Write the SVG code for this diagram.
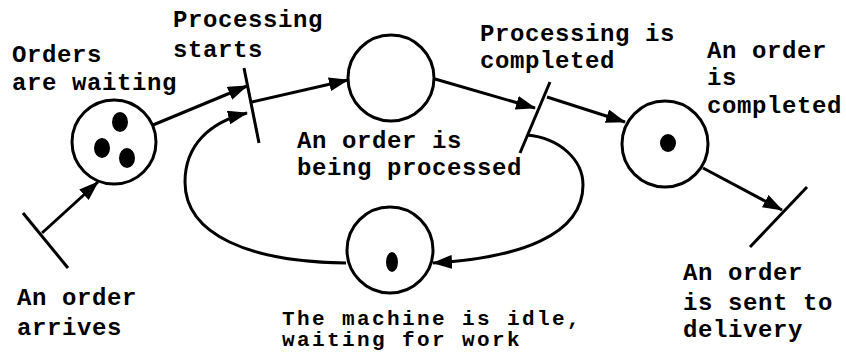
<svg xmlns="http://www.w3.org/2000/svg" width="846" height="353" viewBox="0 0 846 353">
  <style>
    .place { fill: #fff; stroke: #000; stroke-width: 3; }
    .token { fill: #000; }
    .bar { stroke: #000; stroke-width: 3; stroke-linecap: butt; }
    .arc { fill: none; stroke: #000; stroke-width: 3; marker-end: url(#head); }
    text { font-family: "Liberation Mono", "Courier New", monospace; font-weight: bold; font-size: 24px; letter-spacing: 0.6px; fill: #000; }
    text.tight { font-size: 21px; letter-spacing: 2.4px; }
  </style>
  <defs>
    <marker id="head" markerUnits="userSpaceOnUse" markerWidth="20" markerHeight="14" refX="19" refY="7" orient="auto">
      <path d="M0,0 L20,7 L0,14 z" fill="#000"/>
    </marker>
  </defs>
  <rect width="846" height="353" fill="#fff"/>

  <!-- connectors -->
  <g id="connectors">
    <path class="arc" d="M 42,233 L 98,182"/>
    <path class="arc" d="M 153,125 L 247,86"/>
    <path class="arc" d="M 252,102 L 348,80"/>
    <path class="arc" d="M 435,79 L 535,108"/>
    <path class="arc" d="M 547,97 L 625,122"/>
    <path class="arc" d="M 703,168 L 782,210"/>
    <path class="arc" d="M 527,135 C 560,138 583,160 583,185 C 583,235 520,258 433,263"/>
    <path class="arc" d="M 346,263 C 250,262 185,235 185,182 C 185,145 210,122 247,113"/>
  </g>

  <!-- transition: an order arrives -->
  <g id="t-arrive">
    <line class="bar" x1="23" y1="213" x2="68" y2="268"/>
    <text x="17" y="305">An order</text>
    <text x="17" y="335">arrives</text>
  </g>

  <!-- place: orders are waiting -->
  <g id="p-waiting">
    <circle class="place" cx="114" cy="142" r="42"/>
    <ellipse class="token" cx="120" cy="122" rx="8" ry="10"/>
    <ellipse class="token" cx="102" cy="148" rx="8" ry="10"/>
    <ellipse class="token" cx="127" cy="158" rx="8" ry="10"/>
    <text x="12" y="62">Orders</text>
    <text x="12" y="90">are waiting</text>
  </g>

  <!-- transition: processing starts -->
  <g id="t-start">
    <line class="bar" x1="244" y1="68" x2="259" y2="143"/>
    <text x="173" y="27">Processing</text>
    <text x="173" y="57">starts</text>
  </g>

  <!-- place: an order is being processed -->
  <g id="p-processing">
    <circle class="place" cx="391" cy="78" r="43"/>
    <text x="297" y="148">An order is</text>
    <text x="297" y="175">being processed</text>
  </g>

  <!-- transition: processing is completed -->
  <g id="t-complete">
    <line class="bar" x1="550" y1="82" x2="520" y2="153"/>
    <text x="480" y="41">Processing is</text>
    <text x="480" y="68">completed</text>
  </g>

  <!-- place: machine idle -->
  <g id="p-idle">
    <circle class="place" cx="390" cy="250" r="43"/>
    <ellipse class="token" cx="392" cy="262" rx="6" ry="10"/>
    <text class="tight" x="282" y="325">The machine is idle,</text>
    <text class="tight" x="282" y="346">waiting for work</text>
  </g>

  <!-- place: an order is completed -->
  <g id="p-done">
    <circle class="place" cx="665" cy="144" r="43"/>
    <ellipse class="token" cx="668" cy="143" rx="8" ry="9"/>
    <text x="707" y="58">An order</text>
    <text x="707" y="85">is</text>
    <text x="707" y="113">completed</text>
  </g>

  <!-- transition: order sent to delivery -->
  <g id="t-deliver">
    <line class="bar" x1="807" y1="187" x2="750" y2="247"/>
    <text x="683" y="280">An order</text>
    <text x="683" y="310">is sent to</text>
    <text x="683" y="337">delivery</text>
  </g>
</svg>
